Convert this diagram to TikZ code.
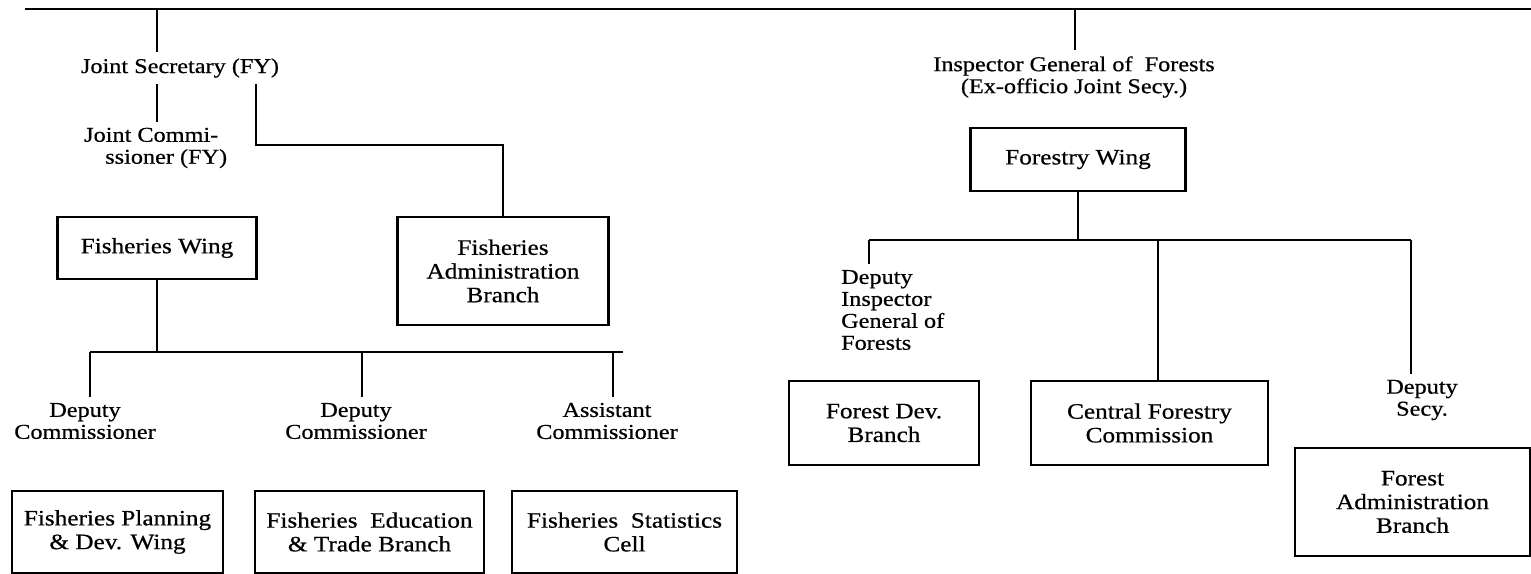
\documentclass[tikz,border=0pt]{standalone}
\usepackage{fontspec}
\setmainfont[FakeStretch=1.15, FakeBold=0.6]{Liberation Serif}
\begin{document}
\begin{tikzpicture}[x=0.02cm, y=-0.02cm]
	\tikzset{
		unitbox/.style={draw, line width=1.3pt, align=center, inner sep=2pt, font=\fontsize{12.5}{13.5}\selectfont},
		postlbl/.style={align=center, font=\fontsize{12}{12.5}\selectfont},
		wire/.style={line width=1.3pt},
	}
	\useasboundingbox (0,0) rectangle (1531,574);
	\clip (0,0) rectangle (1531,574);

	\coordinate (tl) at (25,9); % top rule
	\coordinate (tr) at (1531,9);
	\coordinate (t1) at (157,9);
	\coordinate (t2) at (1075,9);
	\coordinate (el) at (256,145); % elbow to admin branch
	\coordinate (b1) at (90,352); % fisheries bus
	\coordinate (b1m) at (362,352);
	\coordinate (b1r) at (613,352);
	\coordinate (b1e) at (623,352);
	\coordinate (b2) at (869,240); % forestry bus
	\coordinate (b2m) at (1158,240);
	\coordinate (b2r) at (1411,240);

	% Fisheries side
	\path (180,68) node[postlbl] (js) {Joint Secretary (FY)};
	\path (78,148) node[postlbl, anchor=west, align=left] (jc) {Joint Commi-\\\hspace*{12pt}ssioner (FY)};
	\path (157,248) node[unitbox, minimum width=3.98cm, minimum height=1.24cm] (fwing) {Fisheries Wing};
	\path (503,271) node[unitbox, minimum width=4.22cm, minimum height=2.16cm] (fadmin) {Fisheries\\Administration\\Branch};
	\path (85,421) node[postlbl] (dc1) {Deputy\\Commissioner};
	\path (356,421) node[postlbl] (dc2) {Deputy\\Commissioner};
	\path (607,421) node[postlbl] (ac) {Assistant\\Commissioner};
	\path (117.5,532) node[unitbox, minimum width=4.22cm, minimum height=1.64cm] (fplan) {Fisheries Planning\\\& Dev. Wing};
	\path (369.5,532) node[unitbox, minimum width=4.58cm, minimum height=1.64cm] (fedu) {Fisheries~ Education\\\& Trade Branch};
	\path (624.5,532) node[unitbox, minimum width=4.5cm, minimum height=1.64cm] (fstat) {Fisheries~ Statistics\\Cell};

	% Forestry side
	\path (1074,77) node[postlbl] (igf) {Inspector General of~ Forests\\(Ex-officio Joint Secy.)};
	\path (1078,159.5) node[unitbox, minimum width=4.3cm, minimum height=1.26cm] (forwing) {Forestry Wing};
	\path (835,310) node[postlbl, anchor=west, align=left] (digf) {Deputy\\Inspector\\General of\\Forests};
	\path (884,423) node[unitbox, minimum width=3.8cm, minimum height=1.68cm] (fdev) {Forest Dev.\\Branch};
	\path (1149.5,423) node[unitbox, minimum width=4.74cm, minimum height=1.68cm] (cfc) {Central Forestry\\Commission};
	\path (1422,400) node[postlbl] (ds) {Deputy\\Secy.};
	\path (1412.5,502) node[unitbox, minimum width=4.7cm, minimum height=2.16cm] (fadm2) {Forest\\Administration\\Branch};

	% Lines
	\draw[wire, line width=1.6pt] (tl) -- (tr);
	\draw[wire] (t1) -- (t1 |- js.north);
	\draw[wire] (t1 |- js.south) -- (t1 |- jc.north);
	\draw[wire] (el |- js.south) -- (el) -| (fadmin.north);
	\draw[wire] (fwing.south) -- (fwing.south |- b1);
	\draw[wire] (b1) -- (b1e);
	\draw[wire] (b1) -- (b1 |- dc1.north);
	\draw[wire] (b1m) -- (b1m |- dc2.north);
	\draw[wire] (b1r) -- (b1r |- ac.north);
	\draw[wire] (t2) -- (t2 |- igf.north);
	\draw[wire] (forwing.south) -- (forwing.south |- b2);
	\draw[wire] (b2) -- (b2r);
	\draw[wire] (b2) -- (b2 |- digf.north);
	\draw[wire] (b2m) -- (b2m |- cfc.north);
	\draw[wire] (b2r) -- (b2r |- ds.north);
\end{tikzpicture}
\end{document}
